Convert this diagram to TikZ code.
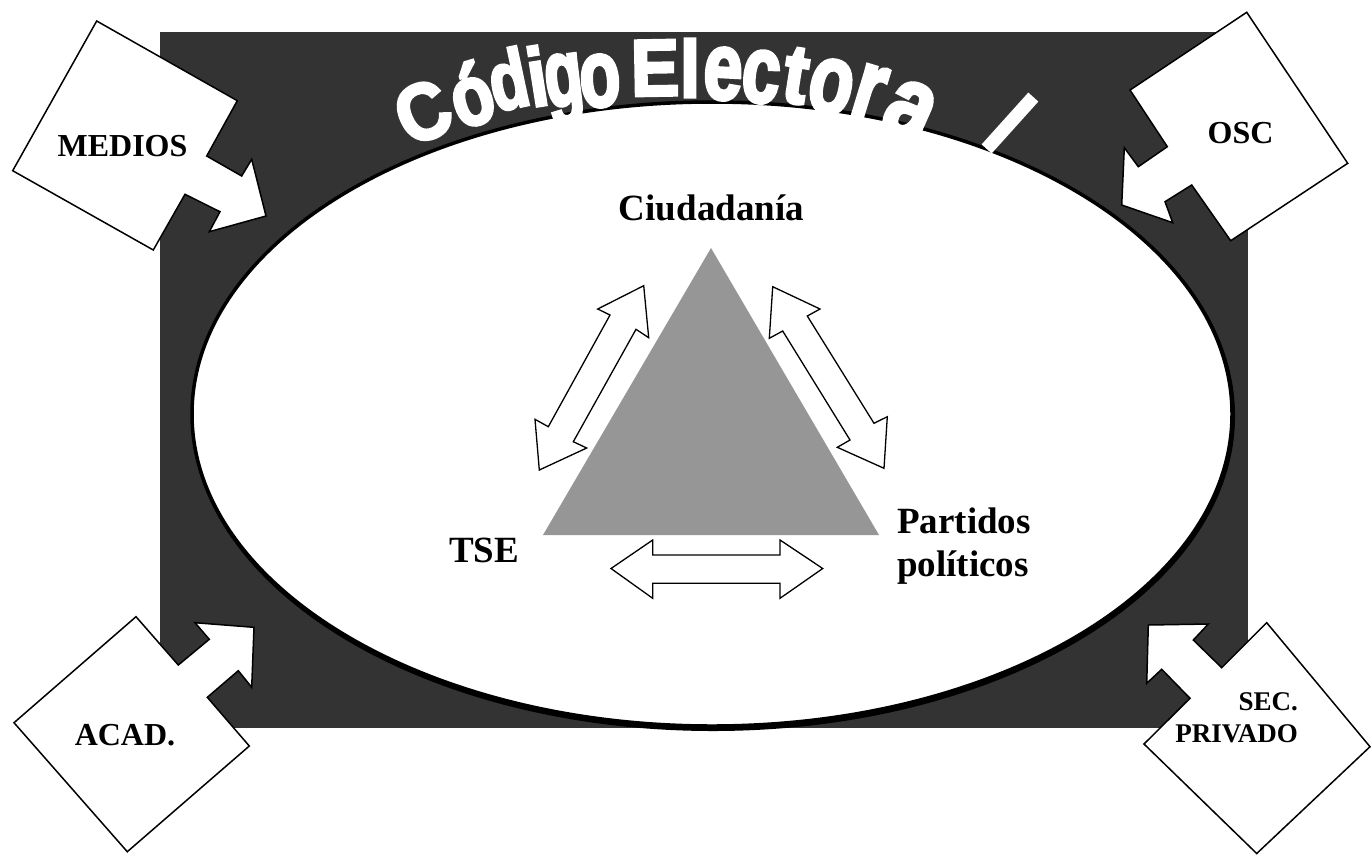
\documentclass[tikz,border=0pt]{standalone}
\usepackage{fontspec}
\usepackage{graphicx}
\setmainfont{Liberation Serif}
\newfontfamily\titlefont[BoldFeatures={FakeBold=4}]{Liberation Sans}
\definecolor{darkbg}{HTML}{333333}
\definecolor{trigray}{HTML}{969696}
\tikzset{
  cornerbox/.style={draw=black, fill=white, line width=1.5pt, line join=miter},
  dblarrow/.style={draw=black, fill=white, line width=1.3pt, line join=miter},
  lbl/.style={font=\bfseries\fontsize{37}{43}\selectfont, inner sep=0pt},
  clbl/.style={font=\bfseries\fontsize{32}{38}\selectfont, inner sep=0pt},
  titleletter/.style={font=\titlefont\bfseries\fontsize{76}{76}\selectfont, text=white, inner sep=0pt},
}
\begin{document}
\begin{tikzpicture}[x=1pt,y=1pt]
\useasboundingbox (0,0) rectangle (1372,-855);
% dark background
\fill[darkbg] (160,-32) rectangle (1248,-728);
% ellipse
\fill[black] (713,-416) ellipse [x radius=522, y radius=315];
\draw[black, line width=3.5pt, fill=white] (712,-414) ellipse [x radius=520, y radius=312];
% title letters
\foreach \ch/\x/\y/\r/\sx/\sy [count=\i] in {C/423/112/24/0.95/1.05, ó/471/94/17/0.9/1.12, d/508/79/12/0.82/1.08, i/537/76/9/0.9/1.08, g/565/90/7/0.82/1.25, o/600/81/4/0.88/1.25, E/655/68/1/0.95/1.05, l/690/68/0/0.95/1.05, e/723/74/-3/0.92/1.25, c/761/77/-6/0.9/1.25, t/796/76/-9/0.95/1.1, o/831/87/-12/0.95/1.3, r/869/93/-17/1.0/1.35, a/910/111/-24/1.1/1.35, l/1010/123/-42/1.0/1.2}
  \node[titleletter, rotate=\r] (t\i) at (\x,-\y) {\scalebox{\sx}[\sy]{\ch}};
% triangle
\fill[trigray] (711,-248) -- (543,-535) -- (879,-535) -- cycle;
% double arrows
\draw[dblarrow] (610,-315) -- (597.7,-309) -- (643.7,-285.7) -- (648.7,-337.7) -- (636,-329.3) -- (573.3,-441.7) -- (586.7,-448) -- (539.3,-470) -- (535,-419.3) -- (548.3,-426.7) -- cycle;
\draw[dblarrow] (772.7,-286.7) -- (820,-309) -- (807.3,-316) -- (874,-423.3) -- (887.3,-416.7) -- (884,-468.3) -- (837.3,-447.3) -- (850,-440) -- (782.7,-331) -- (769.3,-338.3) -- cycle;
\draw[dblarrow] (611,-568.5) -- (652.7,-540) -- (652.7,-555) -- (780,-555) -- (780,-540) -- (822.7,-568.5) -- (780,-598.3) -- (780,-583.3) -- (652.7,-583.3) -- (652.7,-598.3) -- cycle;
% corner boxes
\draw[cornerbox] (96.7,-21) -- (237.3,-100.7) -- (206.7,-156) -- (241.7,-176) -- (251.7,-159.3) -- (266,-216) -- (209.3,-231.7) -- (220,-211.7) -- (185,-194.3) -- (153.3,-250) -- (12.7,-170.7) -- cycle;
\draw[cornerbox] (1246.7,-12.3) -- (1347.7,-163.3) -- (1230.7,-240.7) -- (1191.7,-185) -- (1165,-201.7) -- (1172.7,-222.7) -- (1121.7,-205) -- (1124.3,-147.7) -- (1138.3,-166.7) -- (1167.3,-146.7) -- (1130,-90) -- cycle;
\draw[cornerbox] (136,-616.7) -- (178.3,-665) -- (209.3,-639.3) -- (195,-622.7) -- (254,-627.3) -- (251.7,-687.3) -- (238.3,-670.7) -- (207.3,-697.3) -- (249.3,-746) -- (127.3,-851.7) -- (14,-722.7) -- cycle;
\draw[cornerbox] (1266.7,-622.7) -- (1370,-746.7) -- (1256.7,-853.5) -- (1144,-744) -- (1190,-698.3) -- (1161.7,-669.3) -- (1146.7,-683.3) -- (1148.3,-625) -- (1208.3,-624) -- (1193.3,-640) -- (1221.7,-667.7) -- cycle;
% labels
\node[lbl, anchor=base] (ciud) at (711.5,-220) {Ciudadanía};
\node[lbl, anchor=base] (tse) at (484,-562) {TSE};
\node[lbl, anchor=west, align=left] (part) at (897,-546) {Partidos\\políticos};
\node[clbl, anchor=base] (medios) at (122.5,-156.7) {MEDIOS};
\node[clbl, anchor=base] (osc) at (1240.5,-143.3) {OSC};
\node[clbl, anchor=base] (acad) at (125,-745.7) {ACAD.};
\node[font=\bfseries\fontsize{27}{32}\selectfont, inner sep=0pt, align=right, anchor=east] (sec) at (1298,-718) {SEC.\\PRIVADO};
\end{tikzpicture}
\end{document}
